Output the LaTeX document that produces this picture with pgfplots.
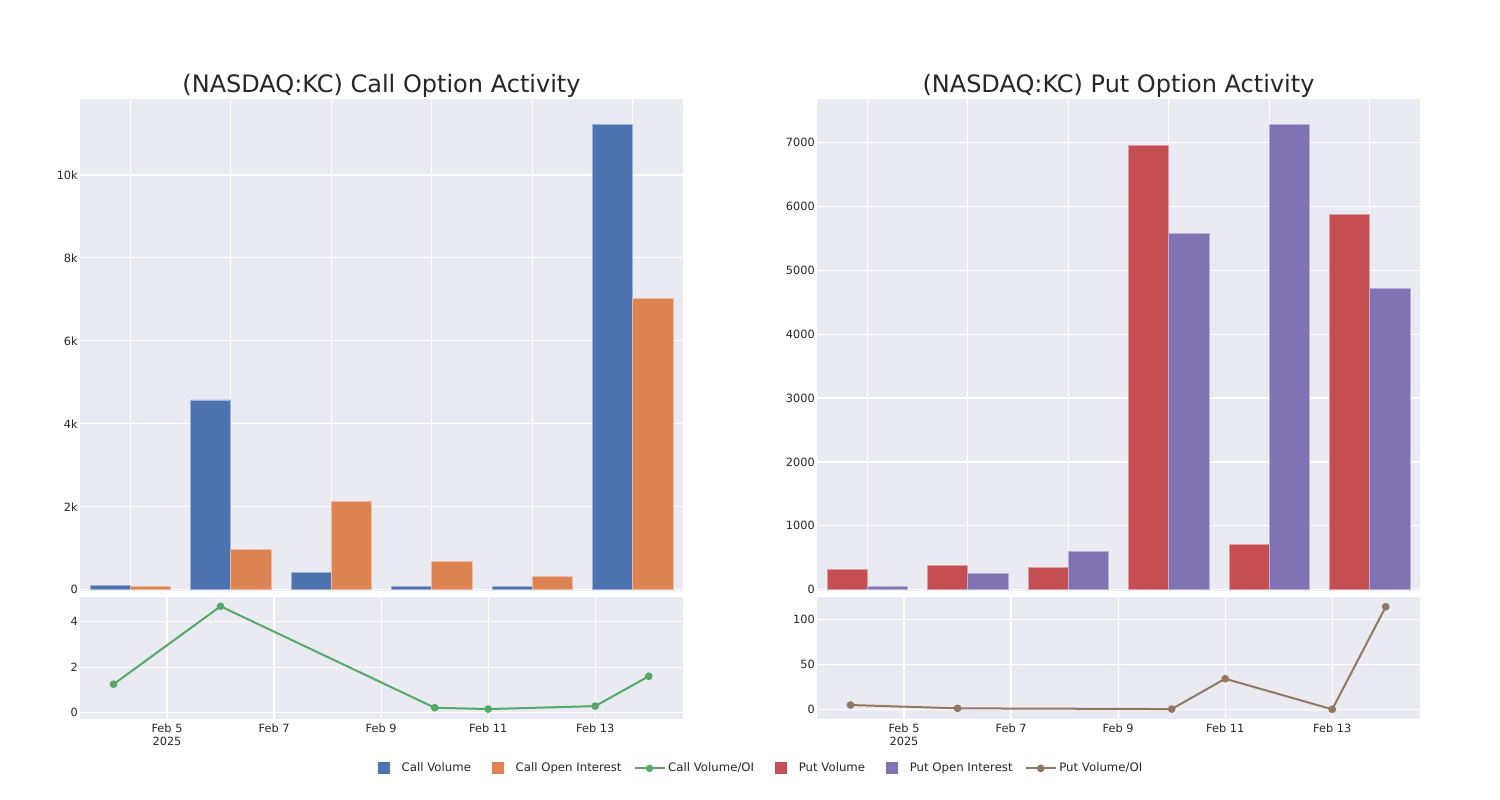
\documentclass[border=0pt]{standalone}
\usepackage{fontspec}
\setmainfont{DejaVu Sans}
\usepackage{pgfplots}
\pgfplotsset{compat=1.18}
\definecolor{bg}{HTML}{EAEAF2}
\definecolor{cblue}{HTML}{4C72B0}
\definecolor{corange}{HTML}{DD8452}
\definecolor{cgreen}{HTML}{55A868}
\definecolor{cred}{HTML}{C44E52}
\definecolor{cpurple}{HTML}{8172B3}
\definecolor{cbrown}{HTML}{937860}
\definecolor{txt}{HTML}{262626}

\pgfplotsset{
  sb/.style={
    scale only axis,
    axis background/.style={fill=bg},
    axis line style={draw=none},
    major tick length=0pt,
    grid=major,
    grid style={white, line width=0.9pt},
    tick label style={font=\fontsize{8.5}{10}\selectfont, text=txt},
    /pgf/number format/assume math mode=true,
    scaled y ticks=false,
    yticklabel style={inner xsep=1.5pt},
    xticklabel style={inner ysep=3pt, align=center},
    clip=false,
  },
  topax/.style={sb, width=452.25pt, height=368.8pt,
    xmin=-0.5, xmax=5.5, xtick={0,1,2,3,4,5}, xticklabels={},
    title style={at={(0.5,1)}, anchor=base, yshift=-1pt, font=\fontsize{18}{22}\selectfont, text=txt},
  },
  botax/.style={sb, width=452.25pt, height=91.95pt,
    xmin=3.374, xmax=14.64, xtick={5,7,9,11,13},
    xticklabels={Feb 5\\2025, Feb 7, Feb 9, Feb 11, Feb 13},
  },
  mysq/.style={legend image code/.code={\path[fill=none,draw=none] (0pt,-4.5pt) rectangle (22.5pt,4.5pt); \fill[##1] (6.75pt,-4.5pt) rectangle (15.75pt,4.5pt);}},
  myline/.style={legend image code/.code={\draw[mark repeat=2,mark phase=2,##1] plot coordinates {(0pt,0pt)(11.25pt,0pt)(22.5pt,0pt)};}},
}

\begin{document}
\begin{tikzpicture}
\useasboundingbox (0,0) rectangle (1125pt,600pt);

% ---------- Call top ----------
\begin{axis}[topax, at={(60pt,156.75pt)}, anchor=south west,
  ymin=-30, ymax=11824,
  ytick={0,2000,4000,6000,8000,10000},
  yticklabels={0,2k,4k,6k,8k,10k},
  title={(NASDAQ:KC) Call Option Activity}]
\addplot[ybar, bar width=0.4, bar shift=-0.2, fill=cblue, draw=cblue!55!white, line width=0.5pt]
  coordinates {(0,105) (1,4578) (2,410) (3,80) (4,80) (5,11220)};
\addplot[ybar, bar width=0.4, bar shift=0.2, fill=corange, draw=corange!55!white, line width=0.5pt]
  coordinates {(0,82) (1,973) (2,2120) (3,683) (4,330) (5,7020)};
\end{axis}

% ---------- Call bottom ----------
\begin{axis}[botax, at={(60pt,60.5pt)}, anchor=south west,
  ymin=-0.29, ymax=5.09, ytick={0,2,4}]
\addplot[cgreen, line width=1.5pt, mark=*, mark size=2.1pt, mark options={fill=cgreen, draw=cgreen}]
  coordinates {(4,1.25) (6,4.67) (10,0.22) (11,0.16) (13,0.29) (14,1.60)};
\end{axis}

% ---------- Put top ----------
\begin{axis}[topax, at={(612.75pt,156.75pt)}, anchor=south west,
  ymin=-20, ymax=7678,
  ytick={0,1000,2000,3000,4000,5000,6000,7000},
  yticklabels={0,1000,2000,3000,4000,5000,6000,7000},
  title={(NASDAQ:KC) Put Option Activity}]
\addplot[ybar, bar width=0.4, bar shift=-0.2, fill=cred, draw=cred!55!white, line width=0.5pt]
  coordinates {(0,312) (1,385) (2,354) (3,6953) (4,703) (5,5881)};
\addplot[ybar, bar width=0.4, bar shift=0.2, fill=cpurple, draw=cpurple!55!white, line width=0.5pt]
  coordinates {(0,47) (1,250) (2,594) (3,5578) (4,7288) (5,4714)};
\end{axis}

% ---------- Put bottom (with shared legend) ----------
\begin{axis}[botax, at={(612.75pt,60.5pt)}, anchor=south west,
  ymin=-11.1, ymax=125.1, ytick={0,50,100},
  legend columns=6,
  legend cell align=left,
  legend style={at={(-0.0995,-0.40)}, anchor=center, draw=none, fill=none,
    font=\fontsize{8.8}{10}\selectfont, text=txt,
    /tikz/every even column/.append style={column sep=7pt}}]
\addlegendimage{mysq, fill=cblue, draw=none}
\addlegendentry{Call Volume}
\addlegendimage{mysq, fill=corange, draw=none}
\addlegendentry{Call Open Interest}
\addlegendimage{myline, cgreen, line width=1.5pt, mark=*, mark size=2pt, mark options={fill=cgreen, draw=cgreen}}
\addlegendentry{Call Volume/OI}
\addlegendimage{mysq, fill=cred, draw=none}
\addlegendentry{Put Volume}
\addlegendimage{mysq, fill=cpurple, draw=none}
\addlegendentry{Put Open Interest}
\addplot[myline, cbrown, line width=1.5pt, mark=*, mark size=2.1pt, mark options={fill=cbrown, draw=cbrown}]
  coordinates {(4,4.8) (6,1.1) (10,0.3) (11,34) (13,0) (14,114)};
\addlegendentry{Put Volume/OI}
\end{axis}
\end{tikzpicture}
\end{document}
